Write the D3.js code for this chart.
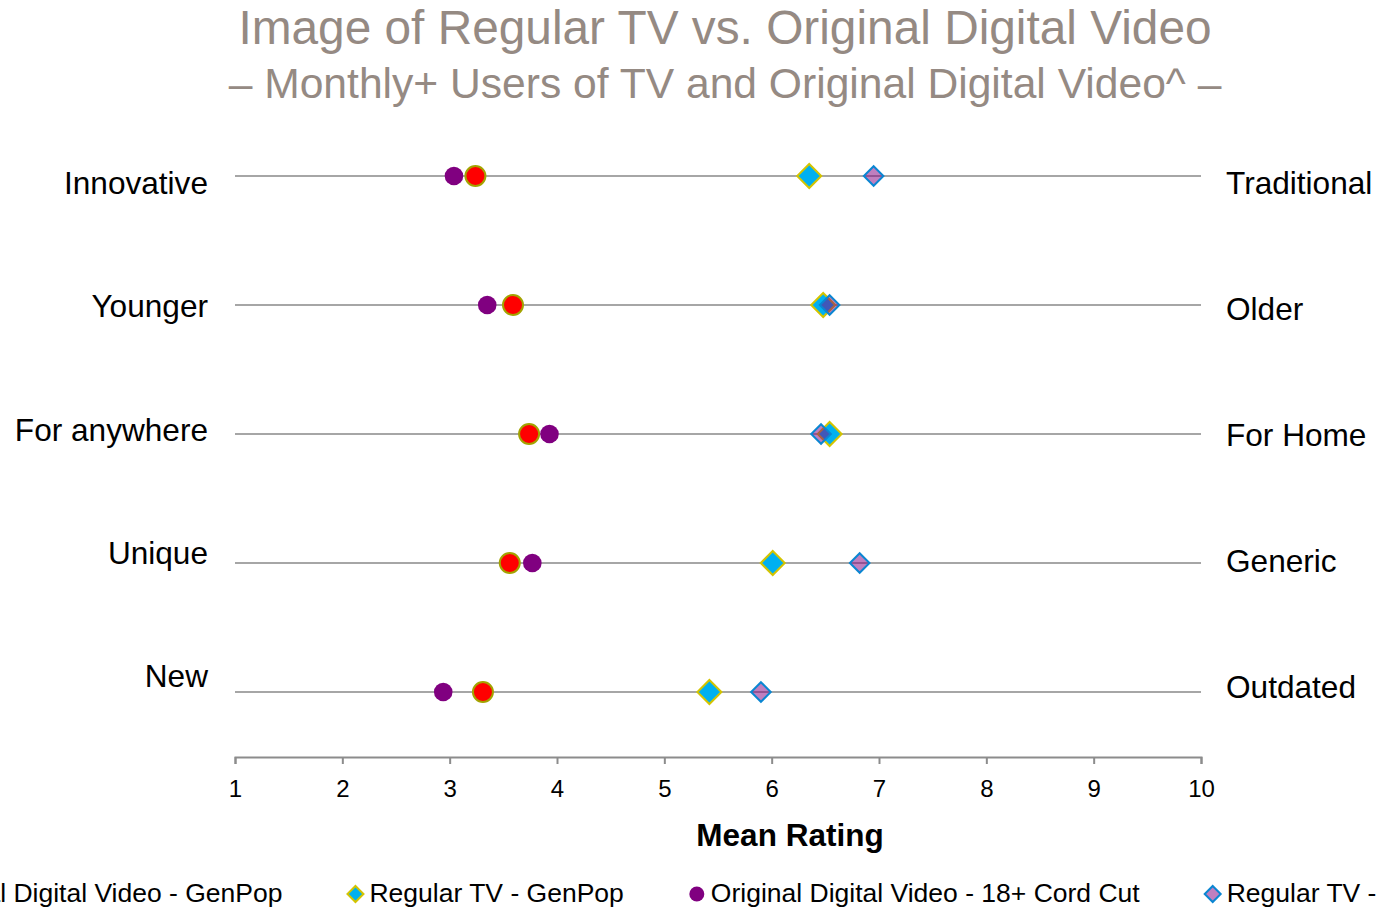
<!DOCTYPE html>
<html>
<head>
<meta charset="utf-8">
<script src="https://cdn.jsdelivr.net/npm/d3@7"></script>
<style>
  body { margin: 0; background: #fff; }
  svg { display: block; font-family: "Liberation Sans", Arial, sans-serif; }
</style>
</head>
<body>
<svg id="chart" width="1376" height="907"></svg>
<script>
// left / right ends of each semantic scale
const leftLabels = ["Innovative", "Younger", "For anywhere", "Unique", "New"];
const rightLabels = ["Traditional", "Older", "For Home", "Generic", "Outdated"];

// mean ratings per row, one array per series
const odvGenPop = [3.24, 3.59, 3.74, 3.56, 3.31];
const tvGenPop = [6.35, 6.48, 6.54, 6.01, 5.42];
const odvCordCut = [3.04, 3.35, 3.93, 3.77, 2.94];
const tvCordCut = [6.95, 6.54, 6.46, 6.82, 5.90];

const xTicks = [1, 2, 3, 4, 5, 6, 7, 8, 9, 10];

const series = [
  { name: "Original Digital Video - GenPop", values: odvGenPop, shape: "circle", r: 10, fill: "#ff0000", stroke: "#a3a300", order: 1 },
  { name: "Regular TV - GenPop", values: tvGenPop, shape: "diamond", r: 12, fill: "#00b0f0", stroke: "#d4c400", order: 2 },
  { name: "Original Digital Video - 18+ Cord Cut", values: odvCordCut, shape: "circle", r: 9.3, fill: "#800080", stroke: "none", order: 0 },
  { name: "Regular TV - 18+ Cord Cut", values: tvCordCut, shape: "diamond", r: 9.8, fill: "rgba(128,0,128,0.5)", stroke: "#0a86d2", order: 3 }
];

const svg = d3.select("#chart");

const x = d3.scaleLinear().domain([1, 10]).range([235, 1201]);
const y = d3.scalePoint().domain(leftLabels).range([176, 692]);
const yLeft = d3.scalePoint().domain(leftLabels).range([194, 687]);
const yRight = d3.scalePoint().domain(rightLabels).range([194, 698]);
const axisY = 757;

// titles
svg.append("text")
  .attr("x", 725).attr("y", 44)
  .attr("text-anchor", "middle")
  .style("font-size", "47.8px")
  .attr("fill", "#958a83")
  .text("Image of Regular TV vs. Original Digital Video");
svg.append("text")
  .attr("x", 725).attr("y", 98)
  .attr("text-anchor", "middle")
  .style("font-size", "42.6px")
  .attr("fill", "#958a83")
  .text("– Monthly+ Users of TV and Original Digital Video^ –");

// row lines
svg.append("g")
  .selectAll("line")
  .data(leftLabels)
  .join("line")
  .attr("x1", x(1)).attr("x2", x(10))
  .attr("y1", d => y(d)).attr("y2", d => y(d))
  .attr("stroke", "#a6a6a6")
  .attr("stroke-width", 2);

// row labels
svg.append("g")
  .selectAll("text")
  .data(leftLabels)
  .join("text")
  .attr("x", 208)
  .attr("y", d => yLeft(d))
  .attr("text-anchor", "end")
  .style("font-size", "31.6px")
  .attr("fill", "#000")
  .text(d => d);

svg.append("g")
  .selectAll("text")
  .data(rightLabels)
  .join("text")
  .attr("x", 1226)
  .attr("y", d => yRight(d))
  .style("font-size", "31.6px")
  .attr("fill", "#000")
  .text(d => d);

// x axis
const axis = svg.append("g")
  .attr("transform", `translate(0,${axisY})`)
  .call(d3.axisBottom(x).tickValues(xTicks).tickSize(7).tickPadding(16).tickFormat(d3.format("d")));
axis.select(".domain").attr("stroke", "#8c8c8c").attr("stroke-width", 2);
axis.selectAll(".tick line").attr("stroke", "#8c8c8c").attr("stroke-width", 2);
axis.selectAll(".tick text")
  .style("font-size", "24px")
  .style("font-family", "\"Liberation Sans\", Arial, sans-serif")
  .attr("fill", "#000");

svg.append("text")
  .attr("x", 790).attr("y", 846)
  .attr("text-anchor", "middle")
  .style("font-size", "31.5px")
  .style("font-weight", "bold")
  .attr("fill", "#000")
  .text("Mean Rating");

function drawMarker(sel, s, r) {
  if (s.shape === "circle") {
    sel.append("circle").attr("r", r);
  } else {
    sel.append("path").attr("d", `M0,${-r}L${r},0L0,${r}L${-r},0Z`);
  }
  sel.selectAll("circle, path")
    .attr("fill", s.fill)
    .attr("stroke", s.stroke)
    .attr("stroke-width", 2);
}

// points
const points = svg.append("g");
series.slice().sort((a, b) => a.order - b.order).forEach(s => {
  points.append("g")
    .selectAll("g")
    .data(s.values.map((v, i) => ({ v, row: leftLabels[i] })))
    .join("g")
    .attr("transform", d => `translate(${x(d.v)},${y(d.row)})`)
    .each(function() { drawMarker(d3.select(this), s, s.r); });
});

// legend (runs off both edges, as in the source slide)
const legend = svg.append("g");
let cursor = 0;
series.forEach((s, i) => {
  const item = legend.append("g").attr("transform", `translate(${cursor},0)`);
  const m = item.append("g").attr("transform", "translate(0,894)");
  drawMarker(m, s, s.shape === "circle" ? 7.5 : 8);
  const t = item.append("text")
    .attr("x", 14).attr("y", 902)
    .style("font-size", "26.5px")
    .attr("fill", "#000")
    .text(s.name);
  cursor += 14 + t.node().getComputedTextLength() + 73;
});
const bb = legend.node().getBBox();
legend.attr("transform", `translate(${718 - bb.x - bb.width / 2},0)`);
</script>
</body>
</html>
